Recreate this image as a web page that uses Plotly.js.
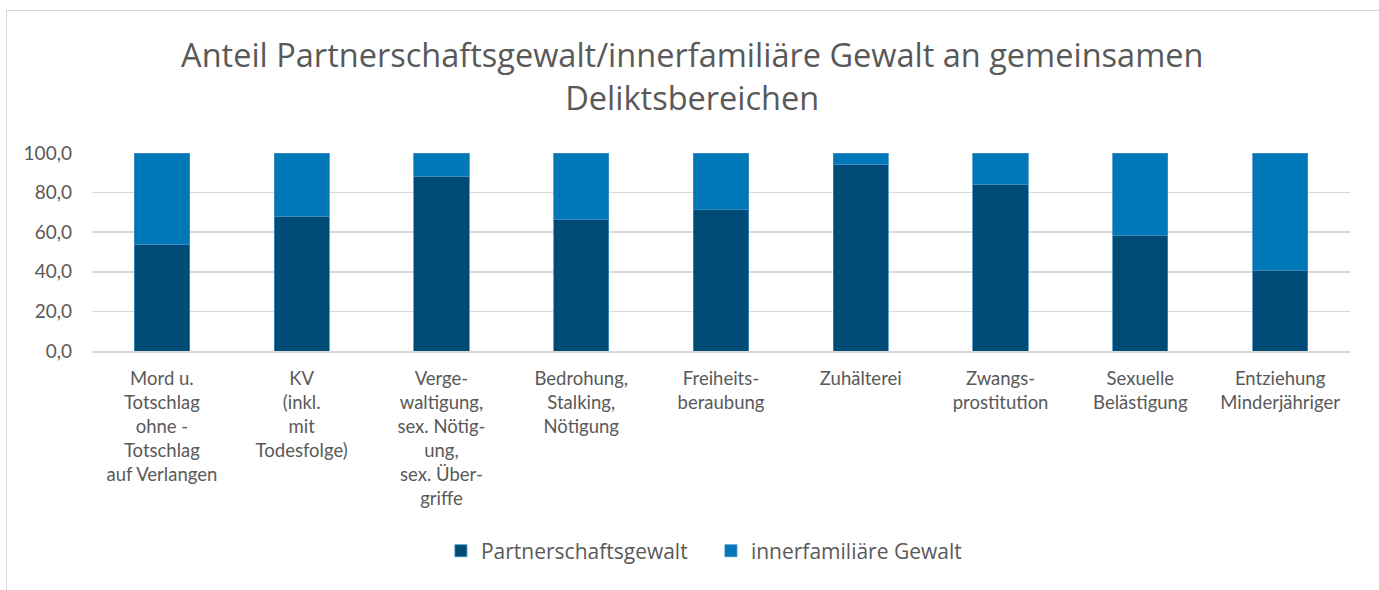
<!DOCTYPE html>
<html>
<head>
<meta charset="utf-8">
<script src="https://cdn.plot.ly/plotly-3.0.1.min.js"></script>
<style>
  html, body { margin: 0; padding: 0; background: #ffffff; }
  #wrap { position: relative; width: 1379px; height: 590px; overflow: hidden; }
  #frame { position: absolute; left: 6px; top: 10px; width: 1380px; height: 600px; border: 1px solid #d9d9d9; box-sizing: border-box; pointer-events: none; }
  #chart { position: absolute; left: 0; top: 0; width: 1379px; height: 590px; }
</style>
</head>
<body>
<div id="wrap">
  <div id="chart"></div>
  <div id="frame"></div>
</div>
<script>
const categories = [
  "Mord u.<br>Totschlag<br>ohne -<br>Totschlag<br>auf Verlangen",
  "KV<br>(inkl.<br>mit<br>Todesfolge)",
  "Verge-<br>waltigung,<br>sex. Nötig-<br>ung,<br>sex. Über-<br>griffe",
  "Bedrohung,<br>Stalking,<br>Nötigung",
  "Freiheits-<br>beraubung",
  "Zuhälterei",
  "Zwangs-<br>prostitution",
  "Sexuelle<br>Belästigung",
  "Entziehung<br>Minderjähriger"
];
const partnerschaftsgewalt = [54.0, 68.1, 88.3, 66.4, 71.4, 94.4, 84.3, 58.5, 40.7];
const innerfamiliaer = [46.0, 31.9, 11.7, 33.6, 28.6, 5.6, 15.7, 41.5, 59.3];
const yTicks = [0, 20, 40, 60, 80, 100];

const font = "Lato, 'Noto Sans', sans-serif";
const wideFont = "'Open Sans', 'Noto Sans', sans-serif";
const grey = "#595959";

const traces = [
  {
    type: "bar", name: "Partnerschaftsgewalt",
    x: categories, y: partnerschaftsgewalt,
    marker: { color: "#004b76", line: { color: "#3f8fc4", width: 0.8 } }
  },
  {
    type: "bar", name: "innerfamiliäre Gewalt",
    x: categories, y: innerfamiliaer,
    marker: { color: "#0077b6", line: { color: "#3f8fc4", width: 0.8 } }
  }
];

const layout = {
  width: 1379, height: 590,
  barmode: "stack", bargap: 0.605,
  paper_bgcolor: "rgba(0,0,0,0)", plot_bgcolor: "rgba(0,0,0,0)",
  margin: { l: 92, r: 29, t: 153, b: 239 },
  font: { family: font, color: grey, size: 18 },
  separators: ",.",
  title: {
    text: "Anteil Partnerschaftsgewalt/innerfamiliäre Gewalt an gemeinsamen<br>Deliktsbereichen",
    font: { family: wideFont, size: 32.5, color: grey },
    x: 0.502, xanchor: "center",
    yref: "container", y: 0.886, yanchor: "middle"
  },
  xaxis: {
    type: "category",
    showgrid: false, showline: true, linecolor: "#d9d9d9", linewidth: 1.5,
    ticks: "", tickfont: { family: font, size: 18.5, color: grey },
    tickangle: 0, automargin: false, ticklabelstandoff: 10
  },
  yaxis: {
    range: [0, 100], tickvals: yTicks, tickformat: ".1f",
    showgrid: true, gridcolor: "#d9d9d9", gridwidth: 1.5,
    zeroline: false, showline: false, ticks: "",
    tickfont: { family: font, size: 19, color: grey },
    automargin: false, ticklabelstandoff: 19
  },
  legend: {
    orientation: "h", x: 0.492, xanchor: "center",
    yref: "container", y: 0.066, yanchor: "middle",
    font: { family: wideFont, size: 21, color: grey },
    traceorder: "normal", itemwidth: 30, entrywidth: 225
  },
  showlegend: true
};

Plotly.newPlot("chart", traces, layout, { displayModeBar: false, staticPlot: true });
</script>
</body>
</html>
